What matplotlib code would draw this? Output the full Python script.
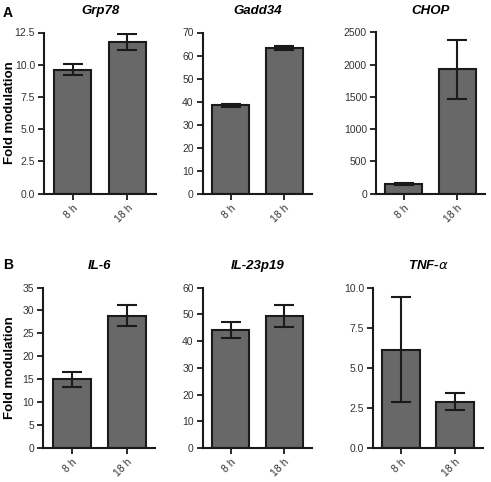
import numpy as np
import matplotlib
matplotlib.use("Agg")
import matplotlib.pyplot as plt

plt.rcParams['font.family'] = ['Liberation Sans', 'DejaVu Sans']

# time points on the x axis
times = ['8 h', '18 h']

# fold modulation (mean and error)
grp78 = [9.6, 11.75]
grp78_err = [0.42, 0.62]
gadd34 = [38.4, 63.2]
gadd34_err = [0.6, 1.0]
chop = [150, 1930]
chop_err = [10, 455]
il6 = [15.0, 28.9]
il6_err = [1.7, 2.25]
il23 = [44.2, 49.5]
il23_err = [3.1, 4.1]
tnf = [6.14, 2.90]
tnf_err = [3.27, 0.54]

panels = [
    ('Grp78', grp78, grp78_err, 12.5, np.arange(0, 12.6, 2.5), '%.1f'),
    ('Gadd34', gadd34, gadd34_err, 70, np.arange(0, 71, 10), '%d'),
    ('CHOP', chop, chop_err, 2500, np.arange(0, 2501, 500), '%d'),
    ('IL-6', il6, il6_err, 35, np.arange(0, 36, 5), '%d'),
    ('IL-23p19', il23, il23_err, 60, np.arange(0, 61, 10), '%d'),
    (r'TNF-$\alpha$', tnf, tnf_err, 10, np.arange(0, 10.1, 2.5), '%.1f'),
]

fig = plt.figure(figsize=(4.91, 4.82), dpi=100)
W, H = 491.0, 482.0
lefts = [[44, 202.7, 376], [43.3, 202.7, 373]]
widths = [[112, 109.3, 109], [112, 109.3, 110]]
rows = [(32.5, 193.7), (287.5, 448.2)]

x = np.arange(len(times))
for i, (title, vals, errs, top, ticks, fmt) in enumerate(panels):
    r, c = divmod(i, 3)
    y0, y1 = rows[r]
    ax = fig.add_axes([lefts[r][c] / W, 1 - y1 / H, widths[r][c] / W, (y1 - y0) / H])
    ax.bar(x, vals, width=0.69, color='#686868', edgecolor='#1a1a1a', linewidth=1.5, zorder=2)
    ax.errorbar(x, vals, yerr=errs, fmt='none', ecolor='#1a1a1a', elinewidth=1.5,
                capsize=7.5, capthick=1.5, zorder=3)
    ax.set_xlim(-0.52, 1.52)
    ax.set_ylim(0, top)
    ax.set_yticks(ticks)
    ax.set_yticklabels([fmt % t for t in ticks])
    ax.set_xticks(x)
    ax.set_xticklabels(times, rotation=45, ha='right', va='top', rotation_mode='anchor', fontsize=7)
    for s in ['top', 'right']:
        ax.spines[s].set_visible(False)
    for s in ['left', 'bottom']:
        ax.spines[s].set_linewidth(1.5)
        ax.spines[s].set_color('#1a1a1a')
    ax.tick_params(axis='both', direction='out', length=4.5, width=1.3, color='#1a1a1a',
                   labelsize=7.5, labelcolor='#333333', pad=2)
    ax.set_title(title, fontsize=9.5, fontweight='bold', fontstyle='italic', pad=13)
    if c == 0:
        fig.text(10 / W, 1 - (y0 + y1) / 2 / H, 'Fold modulation', rotation=90,
                 fontsize=9.5, fontweight='bold', ha='center', va='center')

fig.text(3 / W, 1 - 13 / H, 'A', fontsize=10, fontweight='bold', va='center')
fig.text(3 / W, 1 - 265 / H, 'B', fontsize=10, fontweight='bold', va='center')

plt.savefig('out.png', dpi=100)
